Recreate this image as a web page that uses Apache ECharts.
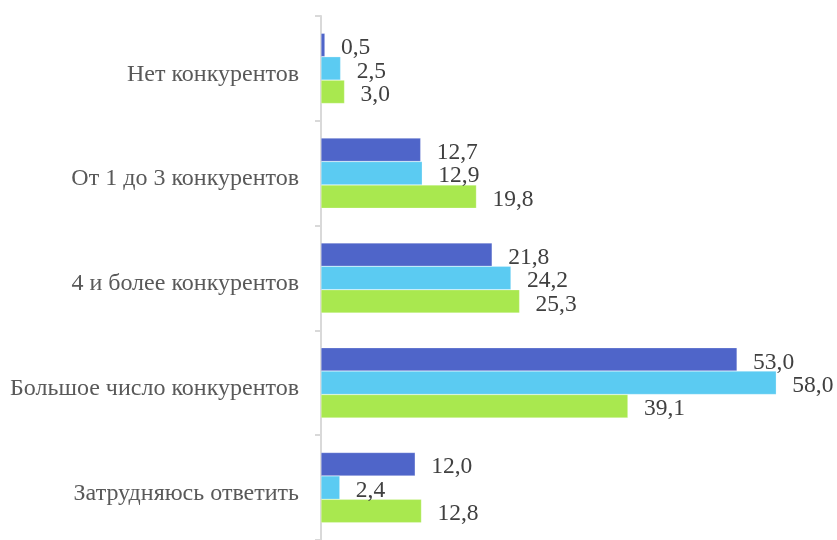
<!DOCTYPE html>
<html>
<head>
<meta charset="utf-8">
<script src="https://cdn.jsdelivr.net/npm/echarts@6/dist/echarts.min.js"></script>
<style>
  html, body { margin: 0; padding: 0; background: #fff; }
  #chart { width: 837px; height: 540px; }
</style>
</head>
<body>
<div id="chart"></div>
<script>
const categories = ['Нет конкурентов', 'От 1 до 3 конкурентов', '4 и более конкурентов', 'Большое число конкурентов', 'Затрудняюсь ответить']
const seriesA = [0.5, 12.7, 21.8, 53.0, 12.0]
const seriesB = [2.5, 12.9, 24.2, 58.0, 2.4]
const seriesC = [3.0, 19.8, 25.3, 39.1, 12.8]

const colors = ['#4f65c9', '#5bcbf2', '#a9e84f']
const font = '"Liberation Serif", "Times New Roman", serif'

function barSeries(data, color) {
  return {
    type: 'bar',
    data: data,
    barGap: '0%',
    barCategoryGap: '33%',
    itemStyle: { color: color, borderColor: 'rgba(255,255,255,0.5)', borderWidth: 0.5 },
    label: {
      show: true,
      position: 'right',
      distance: 16,
      offset: [0, 3],
      fontFamily: font,
      fontSize: 23.5,
      color: '#404040',
      formatter: p => p.value.toFixed(1).replace('.', ',')
    }
  }
}

const chart = echarts.init(document.getElementById('chart'))
chart.setOption({
  animation: false,
  grid: { left: 321, top: 16, width: 471, height: 527 },
  xAxis: {
    type: 'value',
    min: 0,
    max: 60,
    show: false
  },
  yAxis: {
    type: 'category',
    inverse: true,
    data: categories,
    axisLine: { lineStyle: { color: '#d9d9d9', width: 2 } },
    axisTick: { show: true, length: 6, lineStyle: { color: '#d9d9d9', width: 2 } },
    axisLabel: {
      fontFamily: font, fontSize: 24, color: '#595959', margin: 22,
      verticalAlign: 'top', lineHeight: 12
    }
  },
  series: [
    barSeries(seriesA, colors[0]),
    barSeries(seriesB, colors[1]),
    barSeries(seriesC, colors[2])
  ]
})
</script>
</body>
</html>
